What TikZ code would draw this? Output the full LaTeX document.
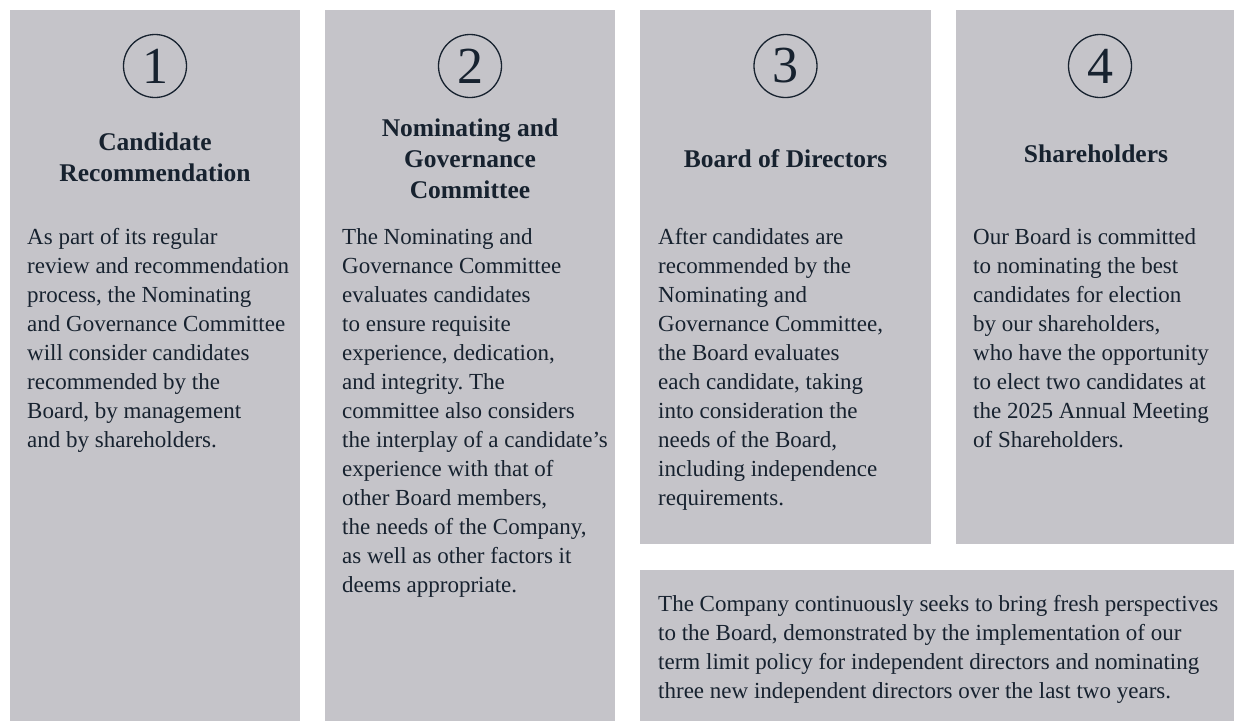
\documentclass[tikz,border=0pt]{standalone}
\usepackage{fontspec}
\setmainfont{Liberation Serif}
\frenchspacing

\definecolor{panelgray}{HTML}{C5C4C9}
\definecolor{inkblue}{HTML}{17222F}

\tikzset{
  panel/.style={fill=panelgray, draw=none},
  stepnum/.style={circle, draw=inkblue, line width=1.3pt, minimum size=63pt,
    inner sep=0pt, text=inkblue, font=\fontsize{52}{52}\selectfont},
  heading/.style={anchor=north, align=center, inner sep=0pt, text=inkblue,
    font=\fontsize{25.5}{31}\selectfont\bfseries},
  bodytext/.style={anchor=north west, align=left, inner sep=0pt, text=inkblue,
    font=\fontsize{23}{29}\selectfont},
}

\begin{document}
\begin{tikzpicture}[x=1pt, y=-1pt]
  \path[fill=white] (0, 0) rectangle (1234, 721);
  %
  % columns and the note box
  \path[panel] (10, 9.5) rectangle (300, 721);
  \path[panel] (325, 9.5) rectangle (615, 721);
  \path[panel] (640, 9.5) rectangle (931, 544);
  \path[panel] (956, 9.5) rectangle (1234, 544);
  \path[panel] (640, 570) rectangle (1234, 721);
  %
  % step numbers
  \foreach \i/\x in {1/155, 2/470, 3/785.5, 4/1100} {
    \node[stepnum] (num\i) at (\x, 66) {\i};
  }
  %
  % headings
  \node[heading] (head1) at (155, 132.6) {Candidate\\Recommendation};
  \node[heading] (head2) at (470, 118.6) {Nominating and\\Governance\\Committee};
  \node[heading] (head3) at (785.5, 149.6) {Board of Directors};
  \node[heading] (head4) at (1096, 144.6) {Shareholders};
  %
  % column texts
  \node[bodytext] (body1) at (27, 228.5) {As part of its regular\\
    review and recommendation\\process, the Nominating\\
    and Governance Committee\\will consider candidates\\
    recommended by the\\Board, by management\\and by shareholders.};
  \node[bodytext] (body2) at (342, 228.5) {The Nominating and\\
    Governance Committee\\evaluates candidates\\to ensure requisite\\
    experience, dedication,\\and integrity. The\\committee also considers\\
    the interplay of a candidate’s\\experience with that of\\
    other Board members,\\the needs of the Company,\\
    as well as other factors it\\deems appropriate.};
  \node[bodytext] (body3) at (658, 228.5) {After candidates are\\
    recommended by the\\Nominating and\\Governance Committee,\\
    the Board evaluates\\each candidate, taking\\into consideration the\\
    needs of the Board,\\including independence\\requirements.};
  \node[bodytext] (body4) at (973, 228.5) {Our Board is committed\\
    to nominating the best\\candidates for election\\by our shareholders,\\
    who have the opportunity\\to elect two candidates at\\
    the 2025 Annual Meeting\\of Shareholders.};
  %
  % note under columns 3 and 4
  \node[bodytext] (note) at (658, 595) {The Company continuously seeks to bring fresh perspectives\\
    to the Board, demonstrated by the implementation of our\\
    term limit policy for independent directors and nominating\\
    three new independent directors over the last two years.};
\end{tikzpicture}
\end{document}
